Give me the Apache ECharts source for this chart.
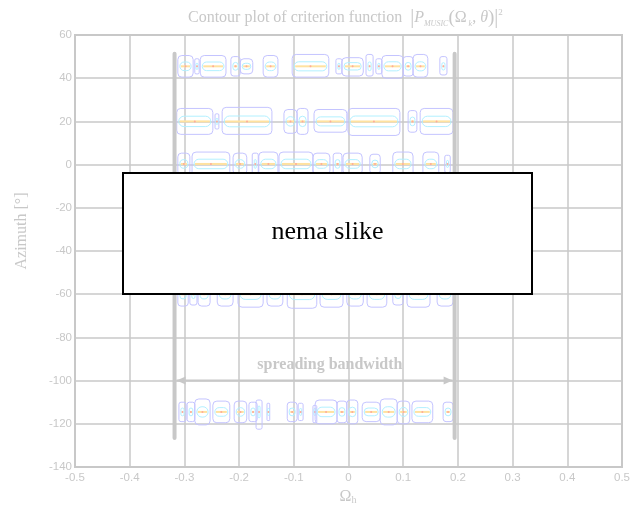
<!DOCTYPE html>
<html><head><meta charset="utf-8">
<script src="https://cdn.jsdelivr.net/npm/echarts@6/dist/echarts.min.js"></script>
<style>html,body{margin:0;padding:0;background:#fff}#c{width:642px;height:508px}</style>
</head><body><div id="c"></div>
<script>
// ---- axes ----
const xMin = -0.5, xMax = 0.5, xStep = 0.1;
const yMin = -140, yMax = 60, yStep = 20;

// ---- spreading bandwidth annotation ----
const bandEdges = [-0.318, 0.194];      // Omega_h of the two vertical bars
const barTop = 51.3, barBottom = -126.6; // azimuth extent of bars
const arrowAzimuth = -100;
const arrowLabelPos = [-0.034, -92.8];

// ---- contour blobs: [x0, x1, halfHeightUp, halfHeightDown] (deg) ----
const center45 = 45.5;
const blobs45 = [
  [-0.312,-0.284,5,5],[-0.281,-0.273,3.5,3.5],[-0.271,-0.224,5,5],[-0.215,-0.198,4.5,4.5],
  [-0.198,-0.175,3.5,3.5],[-0.156,-0.129,5,5],[-0.103,-0.036,5.5,5],[-0.023,-0.012,3.5,3.5],
  [-0.012,0.027,4,4.5],[0.032,0.045,5.5,4.5],[0.050,0.061,3.5,3.5],[0.061,0.100,5,5.5],
  [0.100,0.118,4.5,4.5],[0.118,0.145,5.5,5],[0.167,0.180,4.5,4]
];
const center20 = 20;
const blobs20 = [
  [-0.314,-0.248,6,6],[-0.244,-0.237,3.5,3.5],[-0.231,-0.140,6.5,6],[-0.118,-0.094,5.5,5.5],
  [-0.094,-0.074,6,6],[-0.063,-0.003,5.5,5],[-0.001,0.094,6,6.5],[0.109,0.125,5,5],
  [0.131,0.191,6,6]
];
const center0 = 0.3;
const blobs0 = [
  [-0.312,-0.290,5,5],[-0.286,-0.217,5.5,5.5],[-0.211,-0.186,5,5],[-0.176,-0.165,5,5],
  [-0.164,-0.129,5.5,5.5],[-0.127,-0.065,5.5,5.5],[-0.065,-0.034,5,5],[-0.028,-0.012,5,5],
  [-0.010,0.025,5,5],[0.039,0.058,4.5,4.5],[0.081,0.118,5.5,5.5],[0.136,0.165,5.5,5.5],
  [0.176,0.186,4,4]
];
const centerM60 = -60;
const blobsM60 = [
  [-0.312,-0.293,5.5,5.5],[-0.290,-0.277,5,5],[-0.275,-0.253,5.5,5.5],[-0.240,-0.211,5.5,5.5],
  [-0.202,-0.156,6,6],[-0.149,-0.120,5.5,5.5],[-0.112,-0.058,6,6.5],[-0.052,-0.010,6,6],
  [-0.003,0.027,5.5,5.5],[0.034,0.070,6,6],[0.081,0.100,5,5],[0.107,0.149,6,6],
  [0.162,0.191,5.5,5.5]
];
const centerM115 = -114.5;
const blobsM115 = [
  [-0.310,-0.297,4.5,4.5],[-0.295,-0.281,4.5,4.5],[-0.281,-0.253,6,6],[-0.248,-0.217,5,5],
  [-0.209,-0.186,5,5],[-0.182,-0.167,4.5,4.5],[-0.169,-0.158,5.5,8],[-0.149,-0.144,4,4],
  [-0.112,-0.094,4.5,4.5],[-0.092,-0.083,4,4],[-0.065,-0.058,3,5],[-0.061,-0.021,5.5,5.5],
  [-0.021,-0.003,5,5],[-0.003,0.017,5.5,5.5],[0.025,0.058,4.5,4.5],[0.058,0.089,6,6],
  [0.089,0.112,5,5.5],[0.116,0.154,5,5],[0.173,0.191,4.5,4.5]
];

const bands = [
  [center45, blobs45],[center20, blobs20],[center0, blobs0],
  [centerM60, blobsM60],[centerM115, blobsM115]
];
const blobData = [];
bands.forEach(([yc, list]) => list.forEach(b => blobData.push([b[0], b[1], yc, b[2], b[3]])));

const GREY = '#c8c8c8';
const SERIF = '"Liberation Serif","Times New Roman",serif';
const SANS = '"Liberation Sans",Arial,sans-serif';

function renderBlob(params, api) {
  const x0 = api.value(0), x1 = api.value(1), yc = api.value(2), up = api.value(3), dn = api.value(4);
  const p0 = api.coord([x0, yc + up]);
  const p1 = api.coord([x1, yc - dn]);
  const pc = api.coord([(x0 + x1) / 2, yc]);
  const w = p1[0] - p0[0], h = p1[1] - p0[1];
  const ch = [];
  ch.push({type:'rect', shape:{x:p0[0], y:p0[1], width:w, height:h, r:Math.min(Math.min(w, h) * 0.3, 4)},
    style:{fill:null, stroke:'#c4c4ff', lineWidth:1}});
  const iw = Math.max(w - 4, 2), ih = Math.max(h * 0.4, 3);
  ch.push({type:'rect', shape:{x:pc[0] - iw / 2, y:pc[1] - ih / 2, width:iw, height:ih, r:Math.min(iw, ih) / 2},
    style:{fill:null, stroke:'#b2f0ff', lineWidth:1}});
  if (w > 7) ch.push({type:'line', shape:{x1:p0[0] + 3, y1:pc[1], x2:p1[0] - 3, y2:pc[1]},
    style:{stroke:'#ffe2a0', lineWidth:2}});
  ch.push({type:'circle', shape:{cx:pc[0], cy:pc[1], r:1}, style:{fill:'#ffaa9a'}});
  return {type:'group', children:ch};
}

function renderBars(params, api) {
  const a = api.coord([api.value(0), api.value(1)]);
  const b = api.coord([api.value(0), api.value(2)]);
  return {type:'line', shape:{x1:a[0], y1:a[1], x2:b[0], y2:b[1]},
    style:{stroke:GREY, lineWidth:4, lineCap:'round'}};
}

function renderArrow(params, api) {
  const a = api.coord([api.value(0), api.value(2)]);
  const b = api.coord([api.value(1), api.value(2)]);
  const L = 9, H = 4;
  return {type:'group', children:[
    {type:'line', shape:{x1:a[0] + 2, y1:a[1], x2:b[0] - 2, y2:b[1]}, style:{stroke:GREY, lineWidth:2}},
    {type:'polygon', shape:{points:[[a[0] + 2, a[1]], [a[0] + 2 + L, a[1] - H], [a[0] + 2 + L, a[1] + H]]}, style:{fill:GREY}},
    {type:'polygon', shape:{points:[[b[0] - 2, b[1]], [b[0] - 2 - L, b[1] - H], [b[0] - 2 - L, b[1] + H]]}, style:{fill:GREY}}
  ]};
}

function renderLabel(params, api) {
  const p = api.coord([api.value(0), api.value(1)]);
  return {type:'text', x:p[0], y:p[1], style:{text:'spreading bandwidth', fill:GREY,
    font:'bold 16px ' + SERIF, align:'center', verticalAlign:'middle'}};
}

const chart = echarts.init(document.getElementById('c'), null, {renderer:'canvas'});
chart.setOption({
  animation:false,
  backgroundColor:'#fff',
  title:{
    left:183, top:3,
    text:'Contour plot of criterion function  {bar||}{P|P}{sub|MUSIC}{par|(}{n|Ω}{sub| k}{n|, }{it|θ}{par|)}{bar||}{sup|2}',
    textStyle:{color:GREY, fontFamily:SERIF, fontSize:16, fontWeight:'normal',
      rich:{
        bar:{color:GREY, fontFamily:SERIF, fontSize:20},
        P:{color:GREY, fontFamily:SERIF, fontSize:16, fontStyle:'italic'},
        sub:{color:GREY, fontFamily:SERIF, fontSize:8, fontStyle:'italic', verticalAlign:'bottom', padding:[6,0,0,0]},
        par:{color:GREY, fontFamily:SERIF, fontSize:19},
        n:{color:GREY, fontFamily:SERIF, fontSize:16},
        it:{color:GREY, fontFamily:SERIF, fontSize:16, fontStyle:'italic'},
        sup:{color:GREY, fontFamily:SERIF, fontSize:9, verticalAlign:'top', padding:[0,0,8,0]}
      }}
  },
  grid:{left:75, right:20, top:35, bottom:41, show:true, borderColor:GREY, borderWidth:2, backgroundColor:'#fff'},
  xAxis:{
    type:'value', min:xMin, max:xMax, interval:xStep,
    axisLine:{show:false}, axisTick:{show:false},
    axisLabel:{color:GREY, fontFamily:SANS, fontSize:11.5, margin:5,
      formatter:v => (Math.round(v * 10) / 10).toString()},
    splitLine:{show:true, lineStyle:{color:GREY, width:1.5}}
  },
  yAxis:{
    type:'value', min:yMin, max:yMax, interval:yStep,
    axisLine:{show:false}, axisTick:{show:false},
    axisLabel:{color:GREY, fontFamily:SANS, fontSize:11.5, margin:3},
    splitLine:{show:true, lineStyle:{color:GREY, width:1.5}}
  },
  series:[
    {type:'custom', name:'contours', renderItem:renderBlob, data:blobData, z:2, silent:true},
    {type:'custom', name:'bars', renderItem:renderBars,
      data:bandEdges.map(x => [x, barTop, barBottom]), z:3, silent:true},
    {type:'custom', name:'arrow', renderItem:renderArrow,
      data:[[bandEdges[0], bandEdges[1], arrowAzimuth]], z:3, silent:true},
    {type:'custom', name:'label', renderItem:renderLabel, data:[arrowLabelPos], z:3, silent:true}
  ],
  graphic:[
    {type:'text', x:22, y:231, rotation:Math.PI / 2, z:50,
      style:{text:'Azimuth [°]', fill:GREY, font:'16px ' + SERIF, align:'center', verticalAlign:'middle'}},
    {type:'text', x:348, y:497, z:50,
      style:{text:'Ω{h|h}', fill:GREY, font:'16px ' + SERIF, align:'center', verticalAlign:'middle',
        rich:{h:{fontSize:10, fontFamily:SERIF, fill:GREY, verticalAlign:'bottom', padding:[6,0,0,0]}}}},
    {type:'rect', z:100, shape:{x:123, y:173, width:409, height:121},
      style:{fill:'#fff', stroke:'#000', lineWidth:2}},
    {type:'text', z:101, x:327.5, y:232,
      style:{text:'nema slike', fill:'#000', font:'26px ' + SERIF, align:'center', verticalAlign:'middle'}}
  ]
});
</script>
</body></html>
